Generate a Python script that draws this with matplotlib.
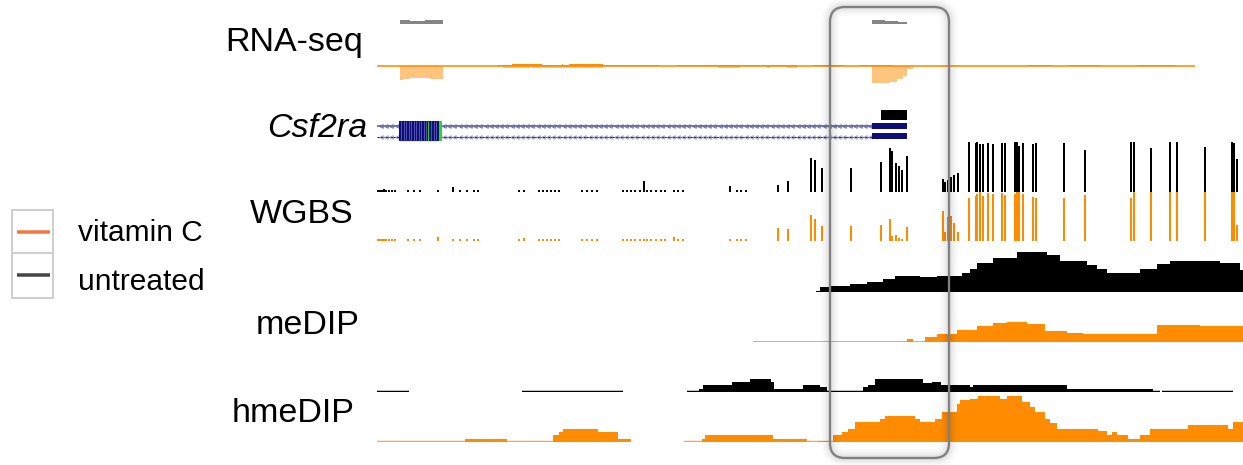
import numpy as np
import matplotlib
matplotlib.use("Agg")
import matplotlib.pyplot as plt
from matplotlib.patches import FancyBboxPatch, Rectangle
from matplotlib.transforms import IdentityTransform

nan = np.nan

# ---------------- data (browser coordinates) ----------------
X_START, X_END = 377, 1243

# RNA-seq, untreated (top strand coverage)
rna_untreated_edges = [400, 410, 425, 443, 872, 885, 898, 907]
rna_untreated_vals = [4, 3.3, 4, nan, 3.5, 3, 2]

# RNA-seq, vitamin C: forward (+) and reverse (-) strand coverage
rna_vitc_fwd_edges = [377, 498, 512, 542, 562, 563, 569, 603, 659, 677, 703, 787, 797,
                      813, 845, 860, 893, 1027, 1052, 1068, 1102, 1137, 1175, 1195]
rna_vitc_fwd_vals = [0, 0.7, 2, 0.7, 2, 0.7, 2, 1.3, 0, 1.3, 0.7, 1.3, 0,
                     1.2, 0, 1.2, 0, 1.3, 0.5, 1.3, 0, 1.3, 0]
rna_vitc_rev_edges = [400, 403, 410, 420, 430, 443, 503, 530, 532, 603, 718, 740,
                      767, 770, 787, 797, 872, 890, 897, 903, 907, 913]
rna_vitc_rev_vals = [-14, -12.5, -12, -11.5, -12.5, nan, -1.5, nan, -1.5, nan, -2, nan,
                     -2, nan, -2, nan, -17, -16, -13, -10, -2.5]

# Csf2ra gene model
gene_name = "Csf2ra"
tx_start, tx_end = 377, 907
exon_block = (399, 441)
exon_block_stripes = [401, 403.5, 406, 408.5, 411, 413.5, 416, 418.5, 421, 423.5, 426, 431, 433.5, 436]
exon_green = [428, 440]
last_exon = (872, 907)
feature_block = (881, 907)

# WGBS: CpG positions and % methylation
wgbs_pos = [378, 380, 382, 384, 386, 389, 392, 395, 408, 414, 420, 438, 453, 460, 467, 474, 478,
            519, 524, 539, 543, 547, 551, 555, 559, 582, 587, 592, 597,
            623, 627, 631, 635, 640, 644, 647, 651, 656, 661, 665, 674, 678, 683,
            730, 737, 741, 746, 778, 788,
            811, 815, 822, 851, 881, 890, 892, 896, 899, 902, 907,
            943, 945, 948, 951, 954, 958, 969, 976, 977, 980, 983, 988, 993,
            1002, 1005, 1015, 1017, 1019, 1023, 1033, 1036, 1064, 1085,
            1131, 1134, 1151, 1170, 1177, 1205, 1232, 1234, 1237]
wgbs_untreated = [4, 4, 4, 6, 4, 4, 4, 4, 4, 4, 4, 4, 10, 4, 4, 4, 4,
                  4, 4, 4, 4, 4, 4, 4, 4, 4, 4, 4, 4,
                  4, 4, 4, 4, 4, 22, 4, 4, 4, 4, 4, 4, 4, 4,
                  12, 4, 4, 4, 14, 22,
                  68, 64, 48, 48, 60, 88, 82, 58, 52, 44, 72,
                  26, 20, 24, 30, 34, 38, 100, 98, 100, 96, 96, 98, 96,
                  98, 98, 100, 100, 92, 98, 96, 98, 98, 84,
                  100, 100, 88, 100, 100, 90, 100, 98, 66]
wgbs_vitc = [4, 4, 4, 4, 4, 4, 4, 4, 4, 4, 4, 8, 4, 4, 4, 4, 4,
             4, 6, 4, 4, 4, 4, 4, 4, 4, 4, 4, 4,
             4, 4, 4, 4, 4, 4, 4, 4, 4, 4, 4, 8, 4, 4,
             4, 4, 4, 4, 27, 25,
             53, 45, 31, 31, 33, 45, 10, 12, 6, 4, 29,
             61, 18, 49, 51, 37, 18, 88, 92, 96, 100, 92, 98, 96,
             98, 94, 96, 100, 100, 96, 90, 88, 88, 94,
             88, 100, 100, 100, 100, 100, 100, 100, 33]

# meDIP coverage
medip_untreated_edges = [816, 820, 830, 850, 867, 883, 895, 920, 937, 962, 970, 977, 993,
                         1017, 1047, 1060, 1087, 1097, 1107, 1140, 1157, 1170, 1220, 1240, 1243]
medip_untreated_vals = [1, 5, 6, 8, 10, 13, 16, 15, 16, 19, 23, 29, 34,
                        40, 37, 31, 27, 23, 19, 23, 28, 31, 29, 22]
medip_vitc_edges = [753, 907, 913, 925, 937, 957, 977, 993, 1007, 1027, 1045, 1067, 1083,
                    1157, 1200, 1243]
medip_vitc_vals = [0, 3, 0.5, 5, 8, 12, 16, 19, 20, 18, 11, 9, 8, 17, 16]

# hmeDIP coverage
hmedip_untreated_edges = [377, 409, 522, 623, 687, 699, 703, 732, 750, 771, 774, 803, 820,
                          827, 863, 868, 875, 923, 932, 941, 970, 973, 1067, 1153, 1160,
                          1162, 1233]
hmedip_untreated_vals = [0, nan, 0, nan, 0, 3, 7, 10, 13, 10, 3, 7, 5,
                         0, 5, 7, 13, 9, 10, 7, 5, 7, 3, 1, nan, 0]
hmedip_vitc_edges = [377, 465, 507, 553, 559, 563, 598, 618, 631, 684, 702, 705, 773, 807,
                     818, 830, 833, 842, 848, 855, 880, 885, 915, 920, 935, 942, 957, 960,
                     970, 978, 1000, 1007, 1022, 1030, 1035, 1045, 1050, 1057, 1098, 1107,
                     1112, 1117, 1128, 1140, 1150, 1188, 1228, 1233, 1243]
hmedip_vitc_vals = [0, 3, 0, 7, 10, 13, 10, 3, nan, 0, 3, 7, 3, 0,
                    1, 0, 7, 10, 13, 20, 23, 26, 23, 20, 23, 30, 38, 42,
                    43, 46, 43, 46, 40, 35, 30, 23, 19, 13, 11, 7,
                    10, 7, 3, 7, 13, 17, 13, 20]

highlight = (830, 949)

track_labels = ["RNA-seq", "WGBS", "meDIP", "hmeDIP"]
legend_labels = ["vitamin C", "untreated"]

# ---------------- styling ----------------
W, H, DPI = 1243, 465, 100
PX = 72.0 / DPI  # points per pixel
ORANGE = "#ff8c00"
LIGHT_ORANGE = "#ffc47e"
BASE_ORANGE = "#ffa640"
NAVY = "#0d0d7a"

plt.rcParams['font.family'] = ['Liberation Sans', 'DejaVu Sans']

fig = plt.figure(figsize=(W / DPI, H / DPI), dpi=DPI)
fig.patch.set_facecolor('white')

AX_L, AX_R = 377, 1243


def add_track(top, bottom, ylim):
    ax = fig.add_axes([AX_L / W, 1 - bottom / H, (AX_R - AX_L) / W, (bottom - top) / H])
    ax.set_xlim(X_START, X_END)
    ax.set_ylim(*ylim)
    ax.axis('off')
    return ax


def draw_steps(ax, edges, vals, color, base_color=None, base_lw=1.5, zorder=2):
    edges = np.asarray(edges, float)
    vals = np.asarray(vals, float)
    ok = ~np.isnan(vals)
    n = len(vals)
    i = 0
    while i < n:
        if not ok[i]:
            i += 1
            continue
        j = i
        while j < n and ok[j]:
            j += 1
        if base_color is not None:
            ax.hlines(0, edges[i], edges[j], color=base_color, lw=base_lw * PX, zorder=zorder - 0.5)
        ax.stairs(vals[i:j], edges[i:j + 1], fill=True, color=color, linewidth=0,
                  baseline=0, zorder=zorder)
        i = j


# RNA-seq
ax_ru = add_track(14, 24, (0, 10))
draw_steps(ax_ru, rna_untreated_edges, rna_untreated_vals, "#858585")

ax_rv = add_track(44, 90, (-24, 22))
draw_steps(ax_rv, rna_vitc_rev_edges, rna_vitc_rev_vals, LIGHT_ORANGE)
draw_steps(ax_rv, rna_vitc_fwd_edges, rna_vitc_fwd_vals, ORANGE, base_color=ORANGE, base_lw=1.6, zorder=3)

# Gene model
ax_g = add_track(100, 150, (150, 100))
y_up, y_lo = 126, 137
ax_g.hlines(y_up, tx_start, last_exon[0], color="#7a7aa8", lw=2.0 * PX, zorder=1)
ax_g.hlines(y_lo, tx_start, last_exon[0], color=NAVY, lw=1.0 * PX, zorder=1)
chev = np.concatenate([np.arange(381, exon_block[0] - 1, 5.2), np.arange(exon_block[1] + 3, last_exon[0] - 1, 5.2)])
ax_g.plot(chev, np.full_like(chev, y_up), ls='none', marker='<', ms=2.6, mfc='none', mec="#6c6ca8", mew=0.7, zorder=2)
ax_g.plot(chev, np.full_like(chev, y_lo), ls='none', marker='<', ms=2.6, mfc='none', mec="#9a9ad0", mew=0.7, zorder=2)
ax_g.add_patch(Rectangle((exon_block[0], 121), exon_block[1] - exon_block[0], 20, fc=NAVY, ec='none', zorder=3))
ax_g.vlines(exon_block_stripes, 121, 141, color="#6f6fc0", lw=0.7 * PX, zorder=4)
ax_g.vlines(exon_green[0], 121, 141, color="#30d030", lw=1.0 * PX, zorder=4)
ax_g.add_patch(Rectangle((exon_green[1] - 1, 121), 2.5, 20, fc="#22dd22", ec='none', zorder=4))
ax_g.add_patch(Rectangle((last_exon[0], 123), last_exon[1] - last_exon[0], 6, fc=NAVY, ec='none', zorder=3))
ax_g.add_patch(Rectangle((last_exon[0], 133), last_exon[1] - last_exon[0], 6, fc=NAVY, ec='none', zorder=3))
ax_g.add_patch(Rectangle((feature_block[0], 110), feature_block[1] - feature_block[0], 10, fc='black', ec='none', zorder=3))

# WGBS
ax_wu = add_track(142, 192, (0, 100))
ax_wu.bar(wgbs_pos, wgbs_untreated, width=1.8, color='black', linewidth=0)
ax_wv = add_track(192, 241, (0, 100))
ax_wv.bar(wgbs_pos, wgbs_vitc, width=1.8, color=ORANGE, linewidth=0)

# meDIP
ax_mu = add_track(242, 292, (0, 50))
draw_steps(ax_mu, medip_untreated_edges, medip_untreated_vals, 'black', base_color='black', base_lw=1.5)
ax_mv = add_track(300, 342, (0, 42))
draw_steps(ax_mv, medip_vitc_edges, medip_vitc_vals, ORANGE, base_color=BASE_ORANGE, base_lw=2.0)

# hmeDIP
ax_hu = add_track(366, 392, (0, 26))
draw_steps(ax_hu, hmedip_untreated_edges, hmedip_untreated_vals, 'black', base_color='black', base_lw=2.5)
ax_hv = add_track(392, 442, (0, 50))
draw_steps(ax_hv, hmedip_vitc_edges, hmedip_vitc_vals, ORANGE, base_color=BASE_ORANGE, base_lw=2.5)

# Highlight box (display/pixel coordinates from the track x scale)
bx0 = ax_g.transData.transform((highlight[0], 0))[0]
bx1 = ax_g.transData.transform((highlight[1], 0))[0]
top_px, bot_px = 7, 458
ident = IdentityTransform()
for lw_px, a in [(18, 0.02), (13, 0.025), (9, 0.03), (5, 0.04)]:
    fig.add_artist(FancyBboxPatch((bx0, H - bot_px), bx1 - bx0, bot_px - top_px,
                                  boxstyle="round,pad=0,rounding_size=15",
                                  fc='none', ec=(0, 0, 0, a), lw=lw_px * PX,
                                  transform=ident, zorder=9))
fig.add_artist(FancyBboxPatch((bx0, H - bot_px), bx1 - bx0, bot_px - top_px,
                              boxstyle="round,pad=0,rounding_size=15",
                              fc='none', ec="#808080", lw=2.3 * PX,
                              transform=ident, zorder=10))

# Track labels
LFS = 24.5
fig.text(363 / W, 1 - 51.5 / H, track_labels[0], ha='right', va='baseline', fontsize=LFS)
fig.text(367 / W, 1 - 137 / H, gene_name, ha='right', va='baseline', fontsize=LFS, style='italic')
fig.text(353 / W, 1 - 223 / H, track_labels[1], ha='right', va='baseline', fontsize=LFS)
fig.text(360 / W, 1 - 334 / H, track_labels[2], ha='right', va='baseline', fontsize=LFS)
fig.text(355 / W, 1 - 422 / H, track_labels[3], ha='right', va='baseline', fontsize=LFS)

# Legend
leg_colors = ["#f07a40", "#454545"]
cells = [(210, 253), (253, 298)]
for (ct, cb), col, lab, ly, ty in zip(cells, leg_colors, legend_labels, [232, 275], [240.5, 290]):
    fig.add_artist(Rectangle((12, H - cb), 41, cb - ct, fc='white', ec="#cfcfcf",
                             lw=2.0 * PX, transform=ident, zorder=5))
    fig.add_artist(plt.Line2D([17, 50], [H - ly, H - ly], color=col, lw=3.5 * PX,
                              transform=ident, zorder=6, solid_capstyle='butt'))
    fig.text(78 / W, 1 - ty / H, lab, ha='left', va='baseline', fontsize=21.5)

fig.savefig("out.png", dpi=DPI, facecolor='white')
